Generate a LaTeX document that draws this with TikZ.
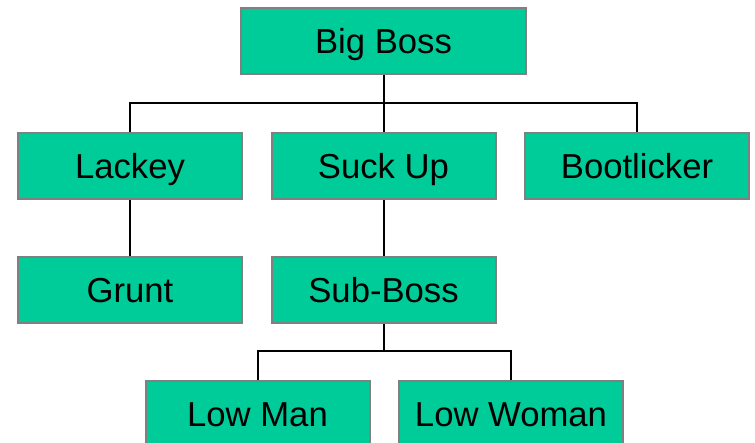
\documentclass[tikz,border=0pt]{standalone}
\usepackage{fontspec}
\setmainfont{Liberation Sans}
\usepackage{tikz}
\usetikzlibrary{positioning,calc}

\definecolor{boxgreen}{HTML}{00CC99}
\definecolor{boxgray}{HTML}{808080}

\tikzset{
    post/.style={draw=boxgray, line width=1.5pt, fill=boxgreen, minimum width=168pt,
        minimum height=49.5pt, inner sep=0pt, text height=18.7pt, text depth=0pt,
        font=\fontsize{26}{30}\selectfont},
    link/.style={line width=1.5pt, black}
}

\begin{document}
\begin{tikzpicture}[x=0.75pt, y=-0.75pt]
    \useasboundingbox (0,0) rectangle (755,442);

    % Bus points
    \coordinate (bus1) at (383.5,103);
    \coordinate (bus2) at (383.5,351);

    % Boxes
    \node[post, minimum width=213.75pt] (boss) at (383.5,41.5) {Big Boss};
    \node[post] (lackey) at (130,166) {Lackey};
    \node[post] (suckup) at (383.5,166) {Suck Up};
    \node[post] (bootlicker) at (637,166) {Bootlicker};
    \node[post] (grunt) at (130,290) {Grunt};
    \node[post] (subboss) at (383.5,290) {Sub-Boss};
    \node[post] (lowman) at (257.5,414) {Low Man};
    \node[post] (lowwoman) at (511,414) {Low Woman};

    % Lines
    \draw[link] (boss.south) -- (bus1);
    \draw[link] (bus1) -| (lackey.north);
    \draw[link] (bus1) -- (suckup.north);
    \draw[link] (bus1) -| (bootlicker.north);
    \draw[link] (lackey.south) -- (grunt.north);
    \draw[link] (suckup.south) -- (subboss.north);
    \draw[link] (subboss.south) -- (bus2);
    \draw[link] (bus2) -| (lowman.north);
    \draw[link] (bus2) -| (lowwoman.north);
\end{tikzpicture}
\end{document}
